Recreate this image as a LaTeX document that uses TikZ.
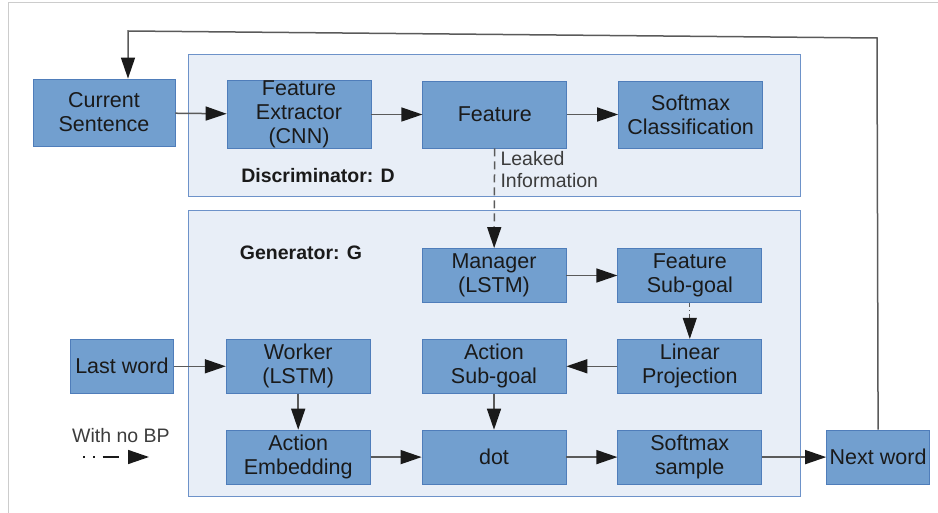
\documentclass[tikz,border=0pt]{standalone}
\usepackage{fontspec}
\setmainfont{Liberation Sans}
\usepackage{xcolor}
\definecolor{BoxBlue}{HTML}{729FCF}
\definecolor{BoxEdge}{HTML}{4F7DBA}
\definecolor{PanelFill}{HTML}{E8EEF7}
\definecolor{PanelEdge}{HTML}{6D92C9}
\definecolor{LineGray}{HTML}{5A5A5A}
\definecolor{InkBlack}{HTML}{1A1A1A}
\definecolor{FrameGray}{HTML}{CCCCCC}
\usepackage{tikz}
\usetikzlibrary{arrows.meta, positioning}
\tikzset{
  % Box styles
  blockbox/.style={rectangle, draw=BoxEdge, fill=BoxBlue, line width=0.8pt, minimum width=144pt, minimum height=54pt, inner sep=0pt, text=InkBlack, font=\fontsize{21.5}{24}\selectfont, align=center},
  panelbox/.style={draw=PanelEdge, fill=PanelFill, line width=0.8pt},
  % Text styles
  panellabel/.style={font=\fontsize{19.5}{22}\selectfont\bfseries, text=InkBlack},
  notetext/.style={font=\fontsize{19.5}{22}\selectfont, text=InkBlack!85, align=left},
  % Arrow styles
  flow/.style={-{Triangle[length=21pt, width=14pt, color=InkBlack]}, line width=1.5pt, LineGray},
  leakarrow/.style={flow, dash pattern=on 8pt off 5pt},
  nobparrow/.style={flow, InkBlack, dash pattern=on 1.5pt off 8.5pt on 1.5pt off 8pt on 16pt off 20pt}
}

\begin{document}
\begin{tikzpicture}[x=1pt, y=-1pt]
  \useasboundingbox (0,0) rectangle (938,513);
  \draw[FrameGray, line width=1pt] (8,513) -- (8,3) -- (938,3);

  % Discriminator
  \draw[panelbox] (188,54) rectangle (800,196);
  \node[blockbox, minimum width=142pt, minimum height=67pt] (cur) at (104,112.5) {Current\\Sentence};
  \node[blockbox, minimum height=67pt] (fext) at (299,114.5) {Feature\\Extractor\\(CNN)};
  \node[blockbox, minimum height=67pt, right=51pt of fext] (feat) {Feature};
  \node[blockbox, minimum height=67pt, right=51pt of feat] (smc) {Softmax\\Classification};
  \node[panellabel] (dlabel) at (318,176) {Discriminator: D};
  \node[notetext, anchor=west] (leak) at (497,170) {Leaked\\Information};

  % Generator
  \draw[panelbox] (188,210) rectangle (800,496);
  \node[panellabel] (glabel) at (301,253) {Generator: G};
  \node[blockbox] (mgr) at (494,275.5) {Manager\\(LSTM)};
  \node[blockbox, right=51pt of mgr] (fsg) {Feature\\Sub-goal};
  \node[blockbox, below=36pt of fsg] (lin) {Linear\\Projection};
  \node[blockbox, below=36pt of mgr] (asg) {Action\\Sub-goal};
  \node[blockbox, left=51pt of asg] (wrk) {Worker\\(LSTM)};
  \node[blockbox, below=36pt of wrk] (aemb) {Action\\Embedding};
  \node[blockbox, below=36pt of asg] (dot) {dot};
  \node[blockbox, below=36pt of lin] (sms) {Softmax\\sample};
  \node[blockbox, minimum width=103pt, left=52pt of wrk] (last) {Last word};
  \node[blockbox, minimum width=103pt, right=64pt of sms] (next) {Next word};

  % Legend
  \node[notetext] (nobp) at (121,436) {With no BP};
  \coordinate (bpA) at (83,457);
  \coordinate (bpB) at (149,457);
  \draw[nobparrow] (bpA) -- (bpB);

  % Connections
  \draw[flow] (cur) -- (fext);
  \draw[flow] (fext) -- (feat);
  \draw[flow] (feat) -- (smc);
  \draw[leakarrow] (feat) -- (mgr);
  \draw[flow] (mgr) -- (fsg);
  \draw[flow, line width=1pt, dash pattern=on 4pt off 3pt on 1pt off 3pt] (fsg) -- (lin);
  \draw[flow] (lin) -- (asg);
  \draw[flow] (asg) -- (dot);
  \draw[flow] (last) -- (wrk);
  \draw[flow] (wrk) -- (aemb);
  \draw[flow] (aemb) -- (dot);
  \draw[flow] (dot) -- (sms);
  \draw[flow] (sms) -- (next);

  % Feedback loop
  \coordinate (loopR) at (877,38);
  \coordinate (loopL) at (128,31);
  \draw[flow] (next.north) -- (loopR) -- (loopL) -- (loopL |- cur.north);
\end{tikzpicture}
\end{document}
